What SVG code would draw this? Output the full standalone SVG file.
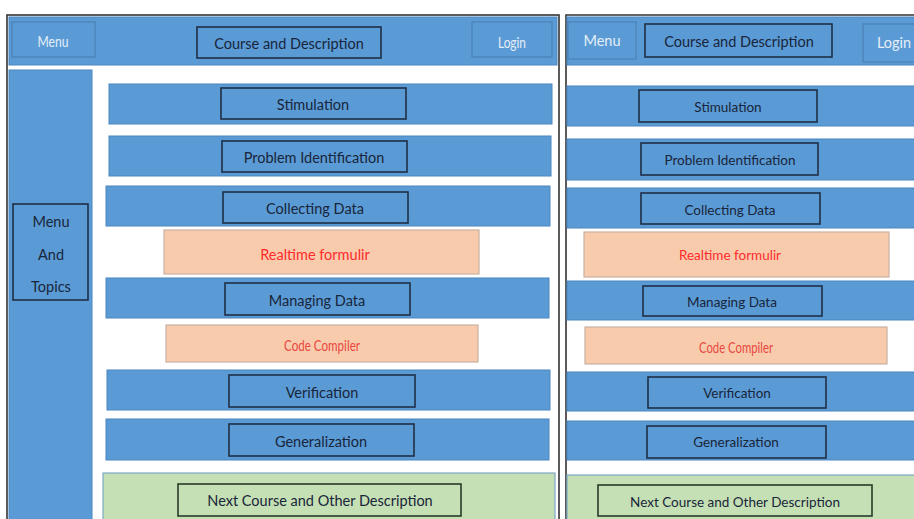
<svg xmlns="http://www.w3.org/2000/svg" width="914" height="519" viewBox="0 0 914 519">
<style>
.bar{fill:#5b9bd5;stroke:#4a86bf;stroke-width:1}
.btn{fill:#5b9bd5;stroke:#4a80b5;stroke-width:1.2}
.inner{fill:#5b9bd5;stroke:#1f2f45;stroke-width:1.6}
.peach{fill:#f8cbad;stroke:#c9b1a2;stroke-width:1.2}
.green{fill:#c5e0b4;stroke:#7ea7c9;stroke-width:1.2}
.ginner{fill:#c5e0b4;stroke:#2a3a2a;stroke-width:1.6}
.frame{fill:none;stroke:#333;stroke-width:1.6}
text{font-family:Lato,"Open Sans","Liberation Sans",sans-serif;font-size:14.5px;text-anchor:middle;dominant-baseline:central;fill:#18253a}
.light{fill:#e4eef8}
.red{fill:#ff2a2a}
.red2{fill:#e8473e}
</style>
<rect width="914" height="519" fill="#ffffff"/>

<!-- LEFT PANEL -->
<g id="left-frame"><rect class="frame" x="7" y="15" width="552" height="510"/></g>
<g id="left-header"><rect class="bar" x="9" y="17" width="548" height="48"/></g>
<g id="left-menu"><rect class="btn" x="12" y="22" width="83" height="35"/><text class="light" x="53" y="41" textLength="31" lengthAdjust="spacingAndGlyphs">Menu</text></g>
<g id="left-course"><rect class="inner" x="197" y="27" width="184" height="31"/><text x="289" y="43">Course and Description</text></g>
<g id="left-login"><rect class="btn" x="472" y="22" width="80" height="35"/><text class="light" x="512" y="42" textLength="28" lengthAdjust="spacingAndGlyphs">Login</text></g>
<g id="left-sidebar"><rect class="bar" x="9" y="70" width="83" height="455"/></g>
<g id="left-topics"><rect class="inner" x="13" y="204" width="75" height="96"/><text x="51" y="221">Menu</text><text x="51" y="254">And</text><text x="51" y="286">Topics</text></g>

<g id="left-stimulation"><rect class="bar" x="109" y="84" width="443" height="40"/><rect class="inner" x="221" y="88" width="185" height="31"/><text x="313" y="104">Stimulation</text></g>
<g id="left-problem"><rect class="bar" x="109" y="136" width="442" height="40"/><rect class="inner" x="222" y="141" width="185" height="31"/><text x="314" y="157">Problem Identification</text></g>
<g id="left-collecting"><rect class="bar" x="106" y="186" width="444" height="40"/><rect class="inner" x="223" y="192" width="185" height="31"/><text x="315" y="208">Collecting Data</text></g>
<g id="left-realtime"><rect class="peach" x="164" y="230" width="315" height="44"/><text class="red" x="315" y="254">Realtime formulir</text></g>
<g id="left-managing"><rect class="bar" x="106" y="278" width="443" height="40"/><rect class="inner" x="225" y="283" width="185" height="32"/><text x="317" y="300">Managing Data</text></g>
<g id="left-compiler"><rect class="peach" x="166" y="325" width="312" height="37"/><text class="red2" x="322" y="345" textLength="76" lengthAdjust="spacingAndGlyphs">Code Compiler</text></g>
<g id="left-verification"><rect class="bar" x="107" y="370" width="443" height="40"/><rect class="inner" x="229" y="375" width="186" height="32"/><text x="322" y="392">Verification</text></g>
<g id="left-generalization"><rect class="bar" x="106" y="419" width="443" height="41"/><rect class="inner" x="229" y="424" width="185" height="32"/><text x="321" y="441">Generalization</text></g>
<g id="left-next"><rect class="green" x="103" y="473" width="452" height="52"/><rect class="ginner" x="178" y="484" width="283" height="32"/><text x="320" y="500">Next Course and Other Description</text></g>

<!-- RIGHT PANEL -->
<g id="right-frame"><path class="frame" d="M566 525 V15 H916"/></g>
<g id="right-header"><rect class="bar" x="567" y="17" width="350" height="48"/></g>
<g id="right-menu"><rect class="btn" x="568" y="22" width="68" height="37"/><text class="light" x="602" y="40">Menu</text></g>
<g id="right-course"><rect class="inner" x="645" y="24" width="187" height="33"/><text x="739" y="41">Course and Description</text></g>
<g id="right-login"><rect class="btn" x="863" y="24" width="60" height="38"/><text class="light" x="894" y="42">Login</text></g>

<g id="right-stimulation"><rect class="bar" x="567" y="86" width="350" height="40"/><rect class="inner" x="639" y="90" width="178" height="32"/><text x="728" y="107" style="font-size:13.5px">Stimulation</text></g>
<g id="right-problem"><rect class="bar" x="567" y="139" width="350" height="41"/><rect class="inner" x="641" y="143" width="177" height="32"/><text x="730" y="160" style="font-size:13.5px">Problem Identification</text></g>
<g id="right-collecting"><rect class="bar" x="567" y="188" width="350" height="40"/><rect class="inner" x="641" y="193" width="179" height="31"/><text x="730" y="210" style="font-size:13.5px">Collecting Data</text></g>
<g id="right-realtime"><rect class="peach" x="584" y="232" width="305" height="45"/><text class="red" x="730" y="255" style="font-size:13.5px">Realtime formulir</text></g>
<g id="right-managing"><rect class="bar" x="567" y="281" width="350" height="39"/><rect class="inner" x="643" y="286" width="179" height="30"/><text x="732" y="302" style="font-size:13.5px">Managing Data</text></g>
<g id="right-compiler"><rect class="peach" x="585" y="327" width="302" height="37"/><text class="red2" x="736" y="347" style="font-size:14.5px" textLength="74" lengthAdjust="spacingAndGlyphs">Code Compiler</text></g>
<g id="right-verification"><rect class="bar" x="567" y="372" width="350" height="39"/><rect class="inner" x="648" y="377" width="178" height="31"/><text x="737" y="393" style="font-size:13.5px">Verification</text></g>
<g id="right-generalization"><rect class="bar" x="567" y="421" width="350" height="39"/><rect class="inner" x="647" y="426" width="179" height="32"/><text x="736" y="442" style="font-size:13.5px">Generalization</text></g>
<g id="right-next"><rect class="green" x="567" y="475" width="350" height="50"/><rect class="ginner" x="598" y="485" width="274" height="31"/><text x="735" y="502" style="font-size:13.5px">Next Course and Other Description</text></g>

<g id="connectors"></g>
</svg>
